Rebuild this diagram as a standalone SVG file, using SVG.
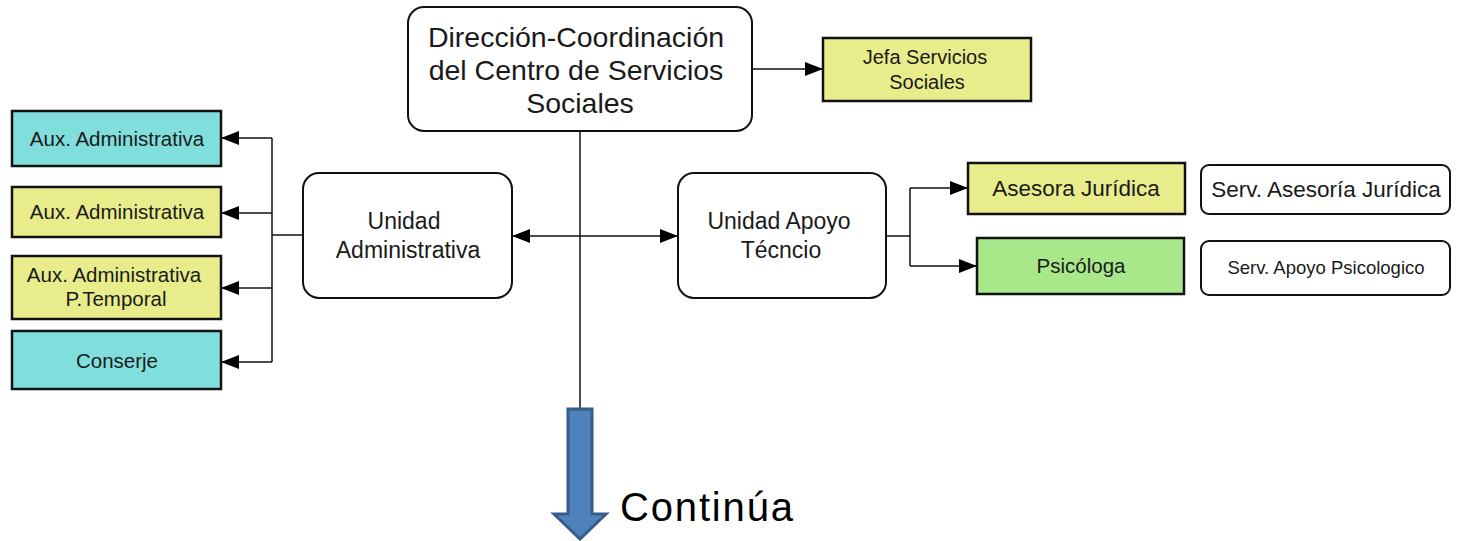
<svg xmlns="http://www.w3.org/2000/svg" width="1462" height="541" viewBox="0 0 1462 541">
<style>
.rbox{fill:#fff;stroke:#111;stroke-width:2}
.cyan{fill:#80DEDD;stroke:#111;stroke-width:2.5}
.yel{fill:#E8EC8A;stroke:#111;stroke-width:2.5}
.grn{fill:#A8E88A;stroke:#111;stroke-width:2.5}
.t{font-family:"Liberation Sans",Arial,sans-serif;fill:#1a1a1a;text-anchor:middle}
.ln{fill:none;stroke:#111;stroke-width:1.5}
</style>
<defs>
<marker id="ah" viewBox="0 0 18 14" refX="18" refY="7" markerWidth="18" markerHeight="14" markerUnits="userSpaceOnUse" orient="auto">
<path d="M0,0 L18,7 L0,14 Z" fill="#000"/>
</marker>
</defs>
<g id="connectors">
<line class="ln" x1="580" y1="131" x2="580" y2="409"/>
<line class="ln" x1="752" y1="69" x2="823" y2="69" marker-end="url(#ah)"/>
<line class="ln" x1="580" y1="236" x2="512" y2="236" marker-end="url(#ah)"/>
<line class="ln" x1="580" y1="236" x2="678" y2="236" marker-end="url(#ah)"/>
<line class="ln" x1="303" y1="235" x2="272" y2="235"/>
<line class="ln" x1="272" y1="138" x2="272" y2="362"/>
<line class="ln" x1="272" y1="138" x2="221" y2="138" marker-end="url(#ah)"/>
<line class="ln" x1="272" y1="213" x2="221" y2="213" marker-end="url(#ah)"/>
<line class="ln" x1="272" y1="288" x2="221" y2="288" marker-end="url(#ah)"/>
<line class="ln" x1="272" y1="362" x2="221" y2="362" marker-end="url(#ah)"/>
<line class="ln" x1="886" y1="236" x2="910" y2="236"/>
<line class="ln" x1="910" y1="188" x2="910" y2="266"/>
<line class="ln" x1="910" y1="188" x2="968" y2="188" marker-end="url(#ah)"/>
<line class="ln" x1="910" y1="266" x2="977" y2="266" marker-end="url(#ah)"/>
</g>
<g id="direccion">
<rect class="rbox" x="408" y="7" width="344" height="124" rx="16"/>
<text class="t" font-size="28.5" x="576" y="47">Dirección-Coordinación</text>
<text class="t" font-size="28.5" x="576" y="80">del Centro de Servicios</text>
<text class="t" font-size="28.5" x="580" y="113">Sociales</text>
</g>
<g id="jefa">
<rect class="yel" x="823" y="38" width="208" height="63"/>
<text class="t" font-size="20" x="925" y="64">Jefa Servicios</text>
<text class="t" font-size="20" x="927" y="89">Sociales</text>
</g>
<g id="unidad-admin">
<rect class="rbox" x="303" y="173" width="209" height="125" rx="16"/>
<text class="t" font-size="23" x="404" y="229">Unidad</text>
<text class="t" font-size="23" x="408" y="258">Administrativa</text>
</g>
<g id="unidad-apoyo">
<rect class="rbox" x="678" y="173" width="208" height="125" rx="16"/>
<text class="t" font-size="23" x="779" y="229">Unidad Apoyo</text>
<text class="t" font-size="23" x="781" y="258">Técncio</text>
</g>
<g id="aux1">
<rect class="cyan" x="12" y="111" width="209" height="55"/>
<text class="t" font-size="20.5" x="117" y="146">Aux. Administrativa</text>
</g>
<g id="aux2">
<rect class="yel" x="12" y="187" width="209" height="50"/>
<text class="t" font-size="20.5" x="117" y="219">Aux. Administrativa</text>
</g>
<g id="aux3">
<rect class="yel" x="12" y="256" width="209" height="63"/>
<text class="t" font-size="20.5" x="114" y="282">Aux. Administrativa</text>
<text class="t" font-size="20.5" x="116" y="306">P.Temporal</text>
</g>
<g id="conserje">
<rect class="cyan" x="12" y="331" width="209" height="58"/>
<text class="t" font-size="20.5" x="117" y="368">Conserje</text>
</g>
<g id="asesora">
<rect class="yel" x="968" y="163" width="217" height="51"/>
<text class="t" font-size="22.5" x="1076" y="196">Asesora Jurídica</text>
</g>
<g id="serv-asesoria">
<rect class="rbox" x="1201" y="165" width="249" height="49" rx="8"/>
<text class="t" font-size="22.5" x="1326" y="197">Serv. Asesoría Jurídica</text>
</g>
<g id="psicologa">
<rect class="grn" x="977" y="238" width="207" height="56"/>
<text class="t" font-size="20.5" x="1081" y="273">Psicóloga</text>
</g>
<g id="serv-psico">
<rect class="rbox" x="1201" y="241" width="249" height="54" rx="8"/>
<text class="t" font-size="18.5" x="1326" y="274">Serv. Apoyo Psicologico</text>
</g>
<g id="continua">
<polygon points="568,409 592,409 592,514 606,514 580,539 554,514 568,514" fill="#4F81BD" stroke="#385D8A" stroke-width="3"/>
<text x="620" y="521" font-family="Liberation Sans,Arial,sans-serif" font-size="40" textLength="173" fill="#000">Continúa</text>
</g>
</svg>
